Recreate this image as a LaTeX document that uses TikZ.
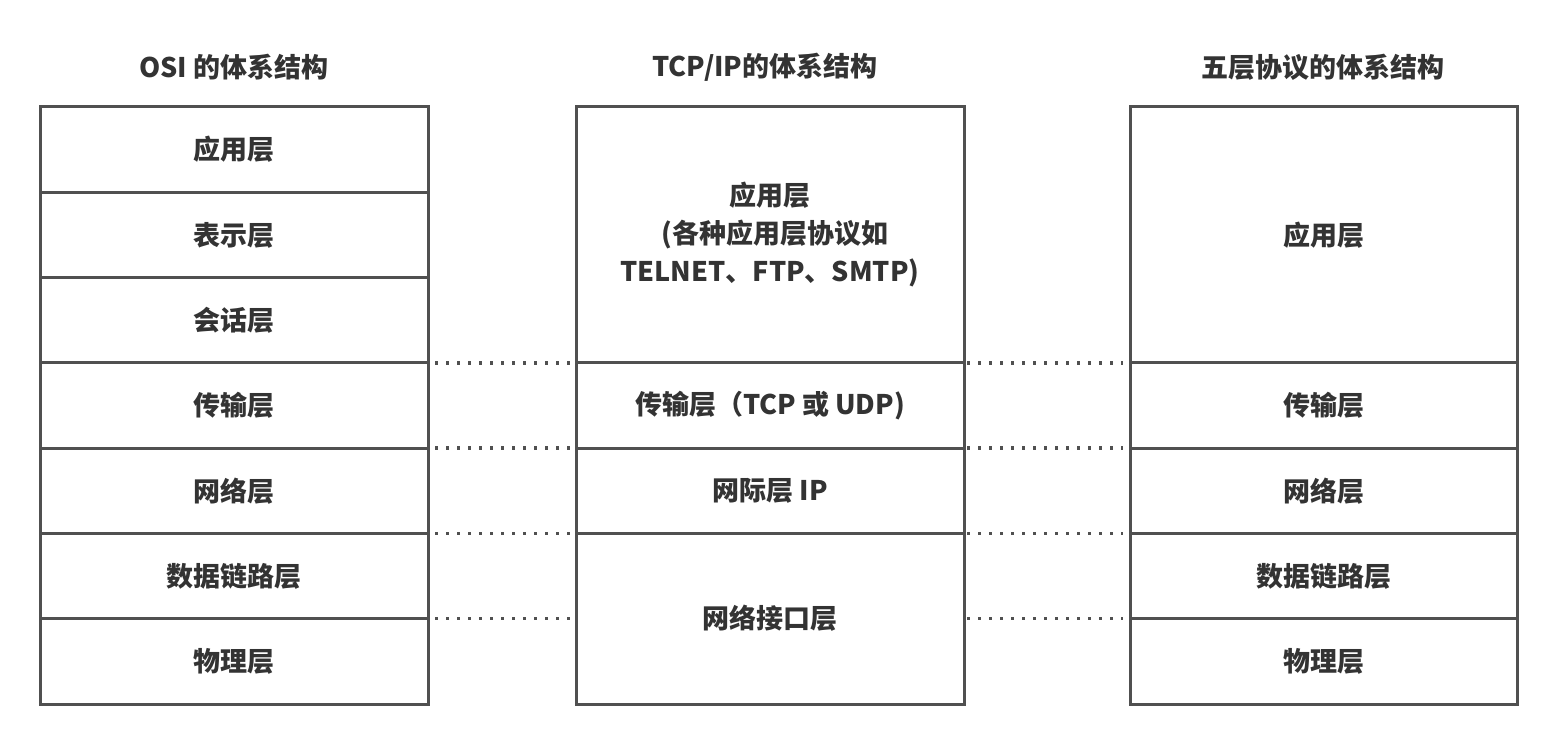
\documentclass[tikz,border=0pt]{standalone}
\usepackage{fontspec}
\setmainfont{Noto Sans CJK SC}
\usetikzlibrary{calc}
\definecolor{linegray}{HTML}{505050}
\definecolor{textgray}{HTML}{333333}
\begin{document}
\begin{tikzpicture}[x=0.5pt,y=-0.5pt,
  layer/.style={draw=linegray, line width=1.5pt, anchor=north west,
    inner sep=0pt, outer sep=0pt, text=textgray, align=center,
    font=\fontsize{13.5}{19}\selectfont\bfseries},
  osi/.style={layer, minimum width=194pt, minimum height=42.65pt},
  mid/.style={layer, minimum width=194pt},
  five/.style={layer, minimum width=193.5pt},
  title/.style={text=textgray, font=\fontsize{13.5}{16}\selectfont\bfseries},
  dots/.style={draw=linegray, line width=1.7pt, line cap=butt,
    dash pattern=on 1.7pt off 3.8pt}]
\useasboundingbox (0,0) rectangle (1562,732);

% column titles
\node[title] (t1) at (234,67) {OSI 的体系结构};
\node[title] (t2) at (765,67) {TCP/IP的体系结构};
\node[title] (t3) at (1323,67) {五层协议的体系结构};

% OSI seven layers
\node[osi] (o1) at (40,107.0) {应用层};
\node[osi] (o2) at (40,192.3) {表示层};
\node[osi] (o3) at (40,277.6) {会话层};
\node[osi] (o4) at (40,362.9) {传输层};
\node[osi] (o5) at (40,448.1) {网络层};
\node[osi] (o6) at (40,533.4) {数据链路层};
\node[osi] (o7) at (40,618.7) {物理层};

% TCP/IP four layers
\node[mid, minimum height=128pt] (m1) at (576,107.0)
  {应用层\\ \hspace*{5pt}(各种应用层协议如\\TELNET、FTP、SMTP)};
\node[mid, minimum height=42.65pt] (m2) at (576,362.9) {传输层（TCP 或 UDP)};
\node[mid, minimum height=42.65pt] (m3) at (576,448.1) {网际层 IP};
\node[mid, minimum height=85.3pt] (m4) at (576,533.4) {网络接口层};

% five-layer model
\node[five, minimum height=128pt] (f1) at (1130,107.0) {应用层};
\node[five, minimum height=42.65pt] (f2) at (1130,362.9) {传输层};
\node[five, minimum height=42.65pt] (f3) at (1130,448.1) {网络层};
\node[five, minimum height=42.65pt] (f4) at (1130,533.4) {数据链路层};
\node[five, minimum height=42.65pt] (f5) at (1130,618.7) {物理层};

% dotted correspondence lines, OSI to TCP/IP
\draw[dots, shorten <=3.5pt] (o4.north east) -- (m2.north west);
\draw[dots, shorten <=3.5pt] (o5.north east) -- (m3.north west);
\draw[dots, shorten <=3.5pt] (o6.north east) -- (m4.north west);
\draw[dots, shorten <=3.5pt] (o7.north east) -- (m4.west);

% dotted correspondence lines, TCP/IP to five-layer
\draw[dots, shorten <=1.5pt, shorten >=3.5pt] (m2.north east) -- (f2.north west);
\draw[dots, shorten <=1.5pt, shorten >=3.5pt] (m3.north east) -- (f3.north west);
\draw[dots, shorten <=1.5pt, shorten >=3.5pt] (m4.north east) -- (f4.north west);
\draw[dots, shorten <=1.5pt, shorten >=3.5pt] (m4.east) -- (f5.north west);
\end{tikzpicture}
\end{document}
